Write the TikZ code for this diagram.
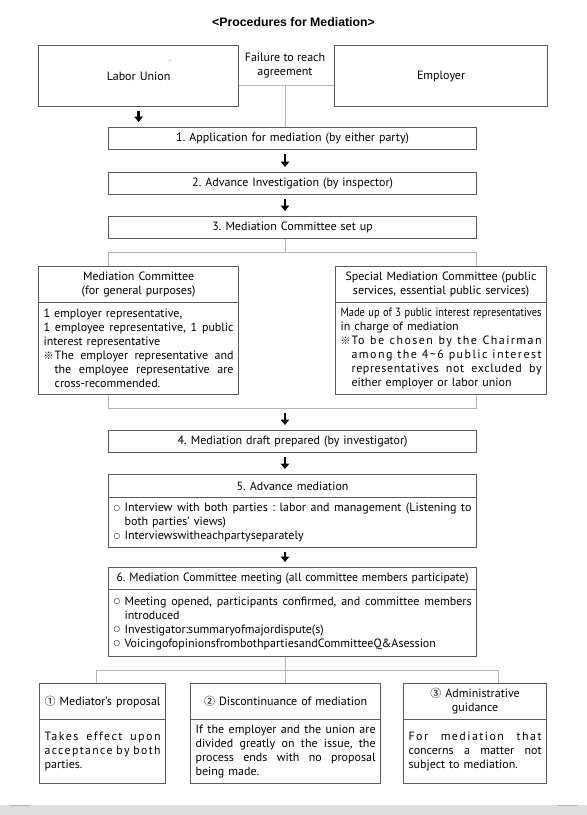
\documentclass[tikz,border=0pt]{standalone}
\usepackage{fontspec}
\usepackage{graphicx}
\usetikzlibrary{arrows.meta}
\setmainfont{PT Sans}
\newfontfamily\titlefont{Liberation Sans}
\newfontfamily\cjk{Noto Sans CJK KR}
\newfontfamily\dejavu{DejaVu Sans}
\definecolor{boxgray}{HTML}{5A5A5A}
\definecolor{conngray}{HTML}{B4B4B4}
\definecolor{bandgray}{HTML}{DEDEDE}
\newlength\hind
\setlength\hind{11pt}
\newlength\bw
\newlength\tmpd
\newsavebox\jbox
\newcommand\fitto[2]{\leavevmode\setlength\tmpd{#1}\sbox\jbox{#2}%
  \ifdim\wd\jbox>\tmpd\relax\pgfmathsetmacro\fitr{\tmpd/\wd\jbox}\scalebox{\fitr}[1]{\usebox\jbox}%
  \else\hbox to \tmpd{\spaceskip=\fontdimen2\font plus 1fil\relax #2}\fi}
\newcommand\fitmax[2]{\leavevmode\setlength\tmpd{#1}\sbox\jbox{#2}%
  \ifdim\wd\jbox>\tmpd\relax\pgfmathsetmacro\fitr{\tmpd/\wd\jbox}\scalebox{\fitr}[1]{\usebox\jbox}%
  \else\usebox\jbox\fi}
\newcommand\jline[1]{\fitto{\bw}{#1}}
\newcommand\jrest[1]{\fitto{\dimexpr\bw-\hind\relax}{#1}}
\newcommand\jind[1]{\hspace*{\hind}\jrest{#1}}
\newcommand\refm{\makebox[\hind][l]{{\cjk\fontsize{10}{10}\selectfont ※}}}
\newcommand\bul{\makebox[\hind][l]{\raisebox{1.6pt}{\dejavu\fontsize{7.5}{7.5}\selectfont ○}}}
\newcommand\circd[1]{{\cjk\fontsize{11}{11}\selectfont #1}}
\newcommand\lsp[1]{{\addfontfeature{LetterSpace=12}#1}}
\newcommand\lspm[1]{{\addfontfeature{LetterSpace=5}#1}}
\begin{document}
\frenchspacing
\begin{tikzpicture}[x=1pt,y=-1pt,
  every node/.style={font=\frenchspacing\fontsize{12}{14}\selectfont},
  box/.style 2 args={draw=boxgray, line width=1.2pt, fill=white, inner sep=0pt,
    anchor=north west, minimum width=#1, minimum height=#2, text width=#1-10pt, align=center,
    execute at begin node={\setlength\bw{\dimexpr#1-10pt\relax}}},
  bodybox/.style 2 args={box={#1}{#2}, align=left},
  frame/.style 2 args={draw=conngray, line width=1pt, inner sep=0pt,
    anchor=north west, minimum width=#1, minimum height=#2},
  conn/.style={draw=conngray, line width=1pt},
  bigarrow/.style={draw=black, line width=2.6pt, -{Triangle[width=8.5pt,length=5.5pt]},
    shorten <=4pt, shorten >=5pt}]
\useasboundingbox (0,0) rectangle (587,815);
\fill[white] (0,0) rectangle (587,815);

\node[font=\titlefont\bfseries\fontsize{12.3}{14}\selectfont] (title) at (293.5,22) {<Procedures for Mediation>};

% top
\node[box={200pt}{61pt}] (labor) at (38,45) {Labor Union};
\node[font=\fontsize{8}{8}\selectfont, text=blue!60!black, inner sep=0pt] (dot) at (170,61) {.};
\node[box={213pt}{61pt}] (employer) at (334,45) {Employer};
\node[align=center, inner sep=0pt] (fail) at (285,66) {Failure to reach\\agreement};
\coordinate (jn) at (285,85);

\node[box={368pt}{22pt}] (b1) at (108,127) {1. Application for mediation (by either party)};
\node[box={368pt}{22pt}] (b2) at (108,172) {2. Advance Investigation (by inspector)};
\node[box={368pt}{22pt}] (b3) at (108,216) {3. Mediation Committee set up};

\draw[conn] (labor.east |- jn) -- (employer.west |- jn);
\draw[conn] (jn) -- (jn |- b1.north);
\draw[bigarrow] (labor.south) -- (labor.south |- b1.north);
\draw[bigarrow] (b1.south -| jn) -- (b2.north -| jn);
\draw[bigarrow] (b2.south -| jn) -- (b3.north -| jn);

% committees
\node[frame={368pt}{156pt}] (grp) at (108,252) {};
\draw[conn] (b3.south -| jn) -- (grp.north -| jn);

\node[box={200pt}{36pt}] (mch) at (38,266) {Mediation Committee\\(for general purposes)};
\node[bodybox={200pt}{92pt}] (mcb) at (38,302) {1 employer representative,\\
\jline{1 employee representative, 1 public}\\
interest representative\\
\refm\jrest{The employer representative and}\\
\jind{the employee representative are}\\
\hspace*{\hind}cross-recommended.};

\node[box={211pt}{36pt}] (sch) at (335,266) {Special Mediation Committee (public\\services, essential public services)};
\node[bodybox={211pt}{92pt}] (scb) at (335,302) {\jline{Made up of 3 public interest representatives}\\
in charge of mediation\\
\refm\jrest{\lsp{To be chosen by the Chairman}}\\
\jind{\lsp{among the 4\textasciitilde6 public interest}}\\
\jind{\lspm{representatives not excluded by}}\\
\hspace*{\hind}\fitmax{\dimexpr\bw-\hind\relax}{either employer or labor union}};

% steps 4-6
\node[box={368pt}{22pt}] (b4) at (108,430) {4. Mediation draft prepared (by investigator)};
\draw[bigarrow] (grp.south -| jn) -- (b4.north -| jn);

\node[box={368pt}{23pt}] (h5) at (108,474) {5. Advance mediation};
\node[bodybox={368pt}{50pt}] (b5) at (108,497) {\bul\jrest{Interview with both parties : labor and management (Listening to}\\
\hspace*{\hind}both parties’ views)\\
\bul Interviewswitheachpartyseparately};
\draw[bigarrow] (b4.south -| jn) -- (h5.north -| jn);

\node[box={368pt}{22pt}] (h6) at (108,567) {\fitmax{352pt}{6. Mediation Committee meeting (all committee members participate)}};
\node[bodybox={368pt}{67pt}] (b6) at (108,589) {\bul\jrest{Meeting opened, participants confirmed, and committee members}\\
\hspace*{\hind}introduced\\
\bul Investigator:summaryofmajordispute(s)\\
\bul VoicingofopinionsfrombothpartiesandCommitteeQ\&Asession};
\draw[bigarrow] (b5.south -| jn) -- (h6.north -| jn);

% outcomes
\coordinate (jb) at (285,670);
\coordinate (jl) at (96,670);
\coordinate (jr) at (498,670);

\node[box={126pt}{36pt}] (ph) at (39,683) {\circd{①} Mediator’s proposal};
\node[bodybox={126pt}{64pt}] (pb) at (39,719) {\jline{\lsp{Takes effect upon}}\\
\jline{\lsp{acceptance by both}}\\
parties.};

\node[box={190pt}{36pt}] (dh) at (190,683) {\circd{②} Discontinuance of mediation};
\node[bodybox={190pt}{64pt}] (db) at (190,719) {\jline{If the employer and the union are}\\
\jline{divided greatly on the issue, the}\\
\jline{process ends with no proposal}\\
being made.};

\node[box={143pt}{36pt}] (ah) at (403,683) {\circd{③} Administrative\\guidance};
\node[bodybox={143pt}{64pt}] (ab) at (403,719) {\jline{\lsp{For mediation that}}\\
\jline{concerns a matter not}\\
subject to mediation.};

\draw[conn] (b6.south -| jb) -- (jb);
\draw[conn] (jl) -- (jr);
\draw[conn] (jl) -- (jl |- ph.north);
\draw[conn] (jb) -- (jb |- dh.north);
\draw[conn] (jr) -- (jr |- ah.north);

% bottom band
\fill[bandgray] (0,805) rectangle (587,815);
\draw[conngray, line width=1pt] (10,805) -- (30,805);
\draw[conngray, line width=1pt] (557,805) -- (577,805);
\end{tikzpicture}
\end{document}
